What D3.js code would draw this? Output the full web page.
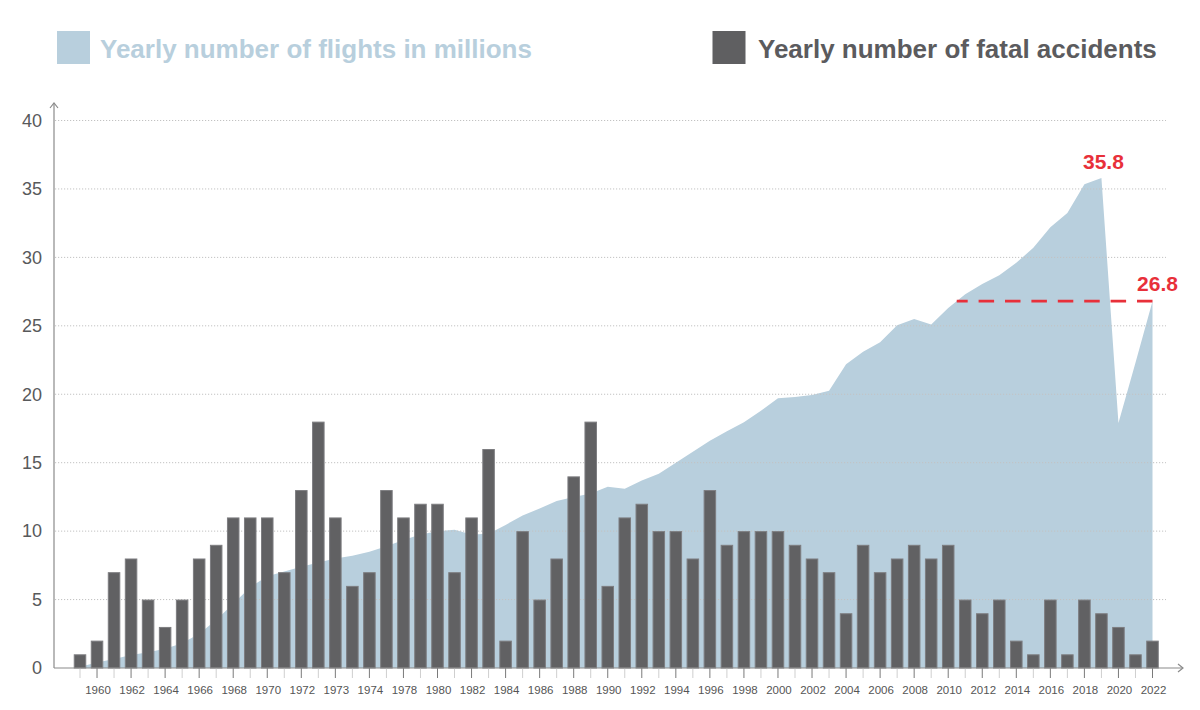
<!DOCTYPE html>
<html>
<head>
<meta charset="utf-8">
<script src="https://cdn.jsdelivr.net/npm/d3@7/dist/d3.min.js"></script>
<style>
  html, body { margin: 0; padding: 0; background: #fff; }
  svg { display: block; font-family: "Liberation Sans", Arial, Helvetica, sans-serif; }
</style>
</head>
<body>
<svg id="chart" width="1200" height="710"></svg>
<script>
// ---- data ----
const years = [1959,1960,1961,1962,1963,1964,1965,1966,1967,1968,1969,1970,1971,1972,1973,1974,1975,1976,1977,1978,1979,1980,1981,1982,1983,1984,1985,1986,1987,1988,1989,1990,1991,1992,1993,1994,1995,1996,1997,1998,1999,2000,2001,2002,2003,2004,2005,2006,2007,2008,2009,2010,2011,2012,2013,2014,2015,2016,2017,2018,2019,2020,2021,2022];
const fatalAccidents = [1,2,7,8,5,3,5,8,9,11,11,11,7,13,18,11,6,7,13,11,12,12,7,11,16,2,10,5,8,14,18,6,11,12,10,10,8,13,9,10,10,10,9,8,7,4,9,7,8,9,8,9,5,4,5,2,1,5,1,5,4,3,1,2];
const flightsMillions = [0.1,0.4,0.65,0.95,1.15,1.4,1.8,2.5,3.5,4.7,5.9,6.7,7.05,7.4,7.7,8.0,8.2,8.5,8.9,9.35,9.75,10.0,10.1,9.75,9.8,10.45,11.15,11.65,12.2,12.5,12.75,13.25,13.1,13.7,14.2,15.0,15.8,16.6,17.3,17.95,18.8,19.7,19.8,19.95,20.25,22.2,23.1,23.8,25.05,25.5,25.1,26.3,27.3,28.05,28.7,29.6,30.7,32.2,33.25,35.35,35.8,17.9,22.3,26.8];
const tickLabels = ["1960","1962","1964","1966","1968","1970","1972","1973","1974","1978","1980","1982","1984","1986","1988","1990","1992","1994","1996","1998","2000","2002","2004","2006","2008","2010","2012","2014","2016","2018","2020","2022"];
const yTicks = [0,5,10,15,20,25,30,35,40];
const peakLabel = "35.8";
const lastLabel = "26.8";
const lastValue = 26.8;
const legendFlights = "Yearly number of flights in millions";
const legendAccidents = "Yearly number of fatal accidents";

// ---- layout ----
const svg = d3.select("#chart");
const axisX = 54, baseY = 668;
const x = d3.scalePoint().domain(years).range([80, 1152.5]);
const step = x.step();
const bw = step * 0.735;
const y = d3.scaleLinear().domain([0, 40]).range([baseY, 120.5]);

const areaColor = "#b8cfdd";
const barColor = "#616163";
const red = "#e8303a";

// area
const pts = years.map((yr, i) => ({yr, v: flightsMillions[i]}));
svg.append("path")
  .datum(pts)
  .attr("fill", areaColor)
  .attr("d", d3.area().x(d => x(d.yr)).y0(baseY).y1(d => y(d.v)));

// gridlines
svg.append("g").selectAll("line")
  .data(yTicks.filter(t => t > 0))
  .join("line")
  .attr("x1", axisX + 1).attr("x2", 1166)
  .attr("y1", d => y(d)).attr("y2", d => y(d))
  .attr("stroke", "#c2c2c2").attr("stroke-width", 1)
  .attr("stroke-dasharray", "1.2,1.8");

// bars
svg.append("g").selectAll("rect")
  .data(years.map((yr, i) => ({yr, v: fatalAccidents[i]})))
  .join("rect")
  .attr("x", d => x(d.yr) - bw / 2 + 0.5)
  .attr("width", bw - 1)
  .attr("y", d => y(d.v) + 0.5)
  .attr("height", d => baseY - y(d.v) - 0.5)
  .attr("fill", barColor)
  .attr("stroke", "#7d7d80")
  .attr("stroke-width", 1);

// x ticks
const labeledYears = tickLabels.map((t, i) => years[1 + 2 * i]);
svg.append("g").selectAll("line")
  .data(years)
  .join("line")
  .attr("x1", d => x(d)).attr("x2", d => x(d))
  .attr("y1", baseY).attr("y2", baseY + 10)
  .attr("stroke", d => labeledYears.includes(d) ? "#7a7a7a" : "#cfcfcf")
  .attr("stroke-width", 1);

svg.append("g").selectAll("text")
  .data(tickLabels)
  .join("text")
  .attr("x", (d, i) => x(labeledYears[i]) + 1)
  .attr("y", 694)
  .attr("text-anchor", "middle")
  .attr("font-size", "11.5px")
  .attr("fill", "#555")
  .text(d => d);

// y labels
svg.append("g").selectAll("text")
  .data(yTicks)
  .join("text")
  .attr("x", 42)
  .attr("y", d => y(d))
  .attr("dy", "0.35em")
  .attr("text-anchor", "end")
  .attr("font-size", "18px")
  .attr("fill", "#58595b")
  .text(d => d);

// axes with arrows
const axisColor = "#8a8a8a";
svg.append("line").attr("x1", axisX).attr("x2", axisX).attr("y1", baseY).attr("y2", 103)
  .attr("stroke", axisColor).attr("stroke-width", 1.2);
svg.append("path").attr("d", `M${axisX-4},${108} L${axisX},${103} L${axisX+4},${108}`)
  .attr("fill", "none").attr("stroke", axisColor).attr("stroke-width", 1.2);
svg.append("line").attr("x1", axisX).attr("x2", 1183).attr("y1", baseY).attr("y2", baseY)
  .attr("stroke", axisColor).attr("stroke-width", 1.2);
svg.append("path").attr("d", `M${1178},${baseY-4} L${1183},${baseY} L${1178},${baseY+4}`)
  .attr("fill", "none").attr("stroke", axisColor).attr("stroke-width", 1.2);

// dashed reference line at last value, from the end back to where the area crosses it
let xStart = x(years[0]);
for (let i = 1; i < pts.length; i++) {
  if (pts[i-1].v < lastValue && pts[i].v >= lastValue) {
    const t = (lastValue - pts[i-1].v) / (pts[i].v - pts[i-1].v);
    xStart = x(pts[i-1].yr) + t * step;
    break;
  }
}
const xEnd = x(years[years.length - 1]);
svg.append("line")
  .attr("x1", xEnd).attr("x2", xStart)
  .attr("y1", y(lastValue)).attr("y2", y(lastValue))
  .attr("stroke", red).attr("stroke-width", 2.7)
  .attr("stroke-dasharray", "15.5,10.9");

// value labels
const peakIdx = flightsMillions.indexOf(d3.max(flightsMillions));
svg.append("text")
  .attr("x", x(years[peakIdx]) + 2)
  .attr("y", y(flightsMillions[peakIdx]) - 9)
  .attr("text-anchor", "middle")
  .attr("font-size", "21px").attr("font-weight", "bold")
  .attr("fill", red)
  .text(peakLabel);
svg.append("text")
  .attr("x", xEnd + 5)
  .attr("y", y(lastValue) - 10.5)
  .attr("text-anchor", "middle")
  .attr("font-size", "21px").attr("font-weight", "bold")
  .attr("fill", red)
  .text(lastLabel);

// legend
svg.append("rect").attr("x", 57).attr("y", 31).attr("width", 33).attr("height", 33).attr("fill", areaColor);
svg.append("text").attr("x", 100).attr("y", 57.5)
  .attr("font-size", "26px").attr("font-weight", "bold").attr("fill", areaColor)
  .text(legendFlights);
svg.append("rect").attr("x", 712.5).attr("y", 31).attr("width", 33).attr("height", 33).attr("fill", "#5f5f61");
svg.append("text").attr("x", 758).attr("y", 57.5)
  .attr("font-size", "26px").attr("font-weight", "bold").attr("fill", "#5b5b5e")
  .text(legendAccidents);
</script>
</body>
</html>
